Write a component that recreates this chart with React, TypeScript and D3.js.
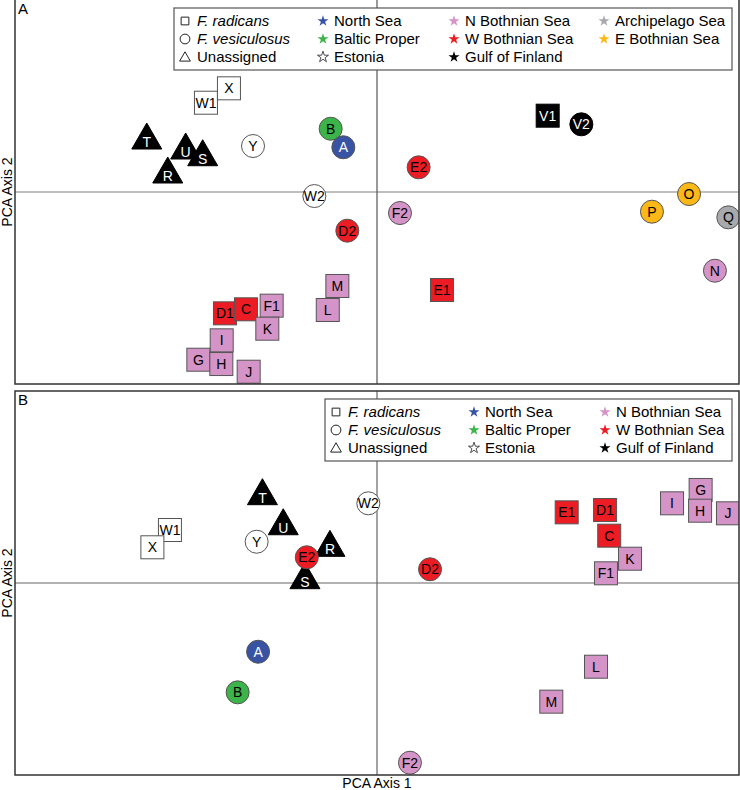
import React, { useRef, useEffect } from 'react';
import * as d3 from 'd3';

// region codes -> fill colours
const regionColor: Record<string, string> = {
  NS: '#3953a4', // North Sea
  BP: '#3cb44a', // Baltic Proper
  EE: '#ffffff', // Estonia
  NB: '#d594c7', // N Bothnian Sea
  WB: '#ec1c24', // W Bothnian Sea
  GF: '#000000', // Gulf of Finland
  AS: '#a7a9ac', // Archipelago Sea
  EB: '#fbb817', // E Bothnian Sea
};

// panel A (all regions)
const panelALabels = ['W1', 'X', 'T', 'U', 'S', 'R', 'Y', 'B', 'A', 'W2', 'D2', 'M', 'L', 'F1', 'D1', 'C', 'K', 'I', 'G', 'H', 'J', 'V1', 'V2', 'E2', 'F2', 'E1', 'P', 'O', 'Q', 'N'];
const panelAX = [-0.945, -0.818, -1.272, -1.057, -0.963, -1.156, -0.685, -0.256, -0.186, -0.346, -0.164, -0.219, -0.272, -0.582, -0.84, -0.724, -0.606, -0.858, -0.987, -0.86, -0.709, 0.943, 1.129, 0.23, 0.127, 0.359, 1.519, 1.724, 1.941, 1.867];
const panelAY = [0.93, 1.08, 0.531, 0.427, 0.357, 0.177, 0.479, 0.659, 0.466, -0.042, -0.403, -0.979, -1.229, -1.184, -1.264, -1.222, -1.424, -1.545, -1.747, -1.792, -1.872, 0.795, 0.705, 0.257, -0.219, -1.021, -0.205, -0.021, -0.264, -0.82];
const panelAShape = ['sq', 'sq', 'tri', 'tri', 'tri', 'tri', 'circ', 'circ', 'circ', 'circ', 'circ', 'sq', 'sq', 'sq', 'sq', 'sq', 'sq', 'sq', 'sq', 'sq', 'sq', 'sq', 'circ', 'circ', 'circ', 'sq', 'circ', 'circ', 'circ', 'circ'];
const panelARegion = ['EE', 'EE', 'GF', 'GF', 'GF', 'GF', 'EE', 'BP', 'NS', 'EE', 'WB', 'NB', 'NB', 'NB', 'WB', 'WB', 'NB', 'NB', 'NB', 'NB', 'NB', 'GF', 'GF', 'WB', 'NB', 'WB', 'EB', 'EB', 'AS', 'NB'];

// panel B (without Archipelago / E Bothnian)
const panelBLabels = ['T', 'W2', 'W1', 'X', 'U', 'Y', 'S', 'R', 'E2', 'D2', 'E1', 'D1', 'C', 'K', 'F1', 'I', 'G', 'H', 'J', 'A', 'B', 'L', 'M', 'F2'];
const panelBX = [-0.633, -0.048, -1.144, -1.241, -0.518, -0.665, -0.398, -0.26, -0.388, 0.293, 1.048, 1.26, 1.283, 1.398, 1.265, 1.63, 1.788, 1.785, 1.939, -0.657, -0.77, 1.21, 0.963, 0.182];
const panelBY = [0.899, 0.83, 0.552, 0.372, 0.586, 0.43, 0.024, 0.361, 0.268, 0.143, 0.736, 0.76, 0.493, 0.253, 0.101, 0.83, 0.969, 0.753, 0.726, -0.716, -1.139, -0.872, -1.236, -1.872];
const panelBShape = ['tri', 'circ', 'sq', 'sq', 'tri', 'circ', 'tri', 'tri', 'circ', 'circ', 'sq', 'sq', 'sq', 'sq', 'sq', 'sq', 'sq', 'sq', 'sq', 'circ', 'circ', 'sq', 'sq', 'circ'];
const panelBRegion = ['GF', 'EE', 'EE', 'EE', 'GF', 'EE', 'GF', 'GF', 'WB', 'WB', 'WB', 'WB', 'WB', 'NB', 'NB', 'NB', 'NB', 'NB', 'NB', 'NS', 'BP', 'NB', 'NB', 'NB'];

// legend
const legendShapes = ['sq', 'circ', 'tri'];
const legendShapeNames = ['F. radicans', 'F. vesiculosus', 'Unassigned'];
const legendRegionsA = ['NS', 'BP', 'EE', 'NB', 'WB', 'GF', 'AS', 'EB'];
const legendRegionsB = ['NS', 'BP', 'EE', 'NB', 'WB', 'GF'];
const regionNames: Record<string, string> = {
  NS: 'North Sea', BP: 'Baltic Proper', EE: 'Estonia', NB: 'N Bothnian Sea',
  WB: 'W Bothnian Sea', GF: 'Gulf of Finland', AS: 'Archipelago Sea', EB: 'E Bothnian Sea',
};

const FONT = '"Liberation Sans", Arial, sans-serif';

const App = () => {
  const svgRef = useRef<SVGSVGElement>(null);

  useEffect(() => {
    const width = 740;
    const height = 790;
    const left = 15;
    const right = 739;

    const svg = d3.select(svgRef.current)
      .attr('width', width)
      .attr('height', height)
      .style('font-family', FONT);
    svg.selectAll('*').remove();

    const xScale = d3.scaleLinear().domain([-2, 2]).range([left, right]);

    const panels = [
      { id: 'A', top: 0, bottom: 384, labels: panelALabels, xs: panelAX, ys: panelAY, shapes: panelAShape, regions: panelARegion, legend: legendRegionsA, hColor: '#a8a8a8', hWidth: 1.6, vColor: '#555' },
      { id: 'B', top: 391, bottom: 775, labels: panelBLabels, xs: panelBX, ys: panelBY, shapes: panelBShape, regions: panelBRegion, legend: legendRegionsB, hColor: '#666', hWidth: 1.2, vColor: '#666' },
    ];

    panels.forEach((p) => {
      const yScale = d3.scaleLinear().domain([-2, 2]).range([p.bottom, p.top]);
      const g = svg.append('g');

      g.append('clipPath').attr('id', `clip${p.id}`)
        .append('rect')
        .attr('x', left).attr('y', p.top)
        .attr('width', right - left).attr('height', p.bottom - p.top);

      // zero lines
      g.append('line')
        .attr('x1', left).attr('x2', right)
        .attr('y1', yScale(0)).attr('y2', yScale(0))
        .attr('stroke', p.hColor).attr('stroke-width', p.hWidth);
      g.append('line')
        .attr('x1', xScale(0)).attr('x2', xScale(0))
        .attr('y1', p.top).attr('y2', p.bottom)
        .attr('stroke', p.vColor).attr('stroke-width', 1.2);

      // legend
      const lg = g.append('g');
      const lgLeft = 174 + (p.id === 'B' ? 151 : 0);
      lg.append('rect')
        .attr('x', lgLeft).attr('y', p.top + 8)
        .attr('width', 732 - lgLeft).attr('height', 62)
        .attr('fill', '#fff').attr('stroke', '#555').attr('stroke-width', 1.2);
      const colX = [11, 149, 280, 430].map((d) => lgLeft + d);
      const rowY = [21, 39, 57].map((d) => p.top + d);

      legendShapes.forEach((s, i) => {
        const sym = s === 'sq' ? d3.symbolSquare : s === 'circ' ? d3.symbolCircle : d3.symbolTriangle;
        const size = s === 'sq' ? 60 : s === 'circ' ? 75 : 50;
        lg.append('path')
          .attr('d', d3.symbol(sym, size)())
          .attr('transform', `translate(${colX[0]},${rowY[i] + (s === 'tri' ? 1 : 0)})`)
          .attr('fill', '#fff').attr('stroke', '#222').attr('stroke-width', 1);
        lg.append('text')
          .attr('x', colX[0] + 12).attr('y', rowY[i]).attr('dy', '0.36em')
          .attr('font-size', 15)
          .attr('font-style', i < 2 ? 'italic' : 'normal')
          .text(legendShapeNames[i]);
      });

      p.legend.forEach((r, i) => {
        const col = 1 + Math.floor(i / 3);
        const row = i % 3;
        lg.append('path')
          .attr('d', d3.symbol(d3.symbolStar, 38)())
          .attr('transform', `translate(${colX[col]},${rowY[row]})`)
          .attr('fill', regionColor[r])
          .attr('stroke', r === 'EE' ? '#222' : 'none')
          .attr('stroke-width', 0.8);
        lg.append('text')
          .attr('x', colX[col] + 11).attr('y', rowY[row]).attr('dy', '0.36em')
          .attr('font-size', 15)
          .text(regionNames[r]);
      });

      // points
      const pts = g.append('g').attr('clip-path', `url(#clip${p.id})`);
      p.labels.forEach((lab, i) => {
        const cx = xScale(p.xs[i]);
        const cy = yScale(p.ys[i]);
        const fill = regionColor[p.regions[i]];
        const stroke = p.regions[i] === 'GF' ? '#000' : '#555';
        const shape = p.shapes[i];
        if (shape === 'sq') {
          pts.append('rect')
            .attr('x', cx - 11.5).attr('y', cy - 11.5)
            .attr('width', 23).attr('height', 23)
            .attr('fill', fill).attr('stroke', stroke).attr('stroke-width', 1);
        } else if (shape === 'circ') {
          pts.append('circle')
            .attr('cx', cx).attr('cy', cy).attr('r', 11.5)
            .attr('fill', fill).attr('stroke', stroke).attr('stroke-width', 1);
        } else {
          const tri = d3.path();
          tri.moveTo(cx, cy - 18);
          tri.lineTo(cx + 15, cy + 8);
          tri.lineTo(cx - 15, cy + 8);
          tri.closePath();
          pts.append('path')
            .attr('d', tri.toString())
            .attr('fill', fill).attr('stroke', stroke).attr('stroke-width', 1);
        }
        const light = p.regions[i] === 'GF' || p.regions[i] === 'NS';
        pts.append('text')
          .attr('x', cx).attr('y', cy + (shape === 'tri' ? 1 : 0)).attr('dy', '0.36em')
          .attr('text-anchor', 'middle')
          .attr('font-size', 14)
          .attr('fill', light ? '#fff' : '#000')
          .text(lab);
      });

      // frame (panel A has no visible top edge)
      const frame = d3.path();
      if (p.id === 'A') {
        frame.moveTo(left, p.top);
        frame.lineTo(left, p.bottom);
        frame.lineTo(right, p.bottom);
        frame.lineTo(right, p.top);
      } else {
        frame.rect(left, p.top, right - left, p.bottom - p.top);
      }
      g.append('path')
        .attr('d', frame.toString())
        .attr('fill', 'none').attr('stroke', '#333').attr('stroke-width', 1.5);

      g.append('text')
        .attr('x', 18).attr('y', p.top + 14)
        .attr('font-size', 15)
        .text(p.id);

      const midY = (p.top + p.bottom) / 2;
      g.append('text')
        .attr('transform', `translate(12,${midY}) rotate(-90)`)
        .attr('text-anchor', 'middle')
        .attr('font-size', 14)
        .text('PCA Axis 2');
    });

    svg.append('text')
      .attr('x', xScale(0)).attr('y', 788)
      .attr('text-anchor', 'middle')
      .attr('font-size', 14)
      .text('PCA Axis 1');
  }, []);

  return (
    <svg
      ref={svgRef}
      style={{ position: 'absolute', left: 0, top: 0, background: '#fff' }}
    />
  );
};

export default App;
